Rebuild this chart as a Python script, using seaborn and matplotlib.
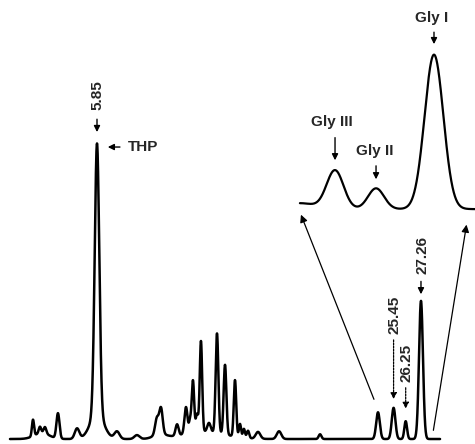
import numpy as np
import pandas as pd
import seaborn as sns
import matplotlib
matplotlib.use("Agg")
from matplotlib import pyplot as plt

# peaks of the main trace: retention time (min), height, width (min)
peak_time = [1.62, 2.08, 2.41, 3.27, 4.53, 5.85, 5.85, 7.17, 8.49, 9.81,
             10.08, 11.14, 11.73, 12.00, 12.19, 12.46, 12.72, 13.25, 13.78, 14.31,
             14.97, 15.30, 15.56, 15.83, 16.49, 17.88, 20.59, 24.42, 25.45, 26.25,
             27.26, 2.20, 12.90, 10.0]
peak_height = [5.5, 2.2, 2.2, 8.5, 3.5, 91.0, 8.5, 2.5, 1.3, 5.5,
               8.5, 3.8, 9.0, 4.0, 17.5, 6.0, 30.5, 3.0, 33.5, 23.5,
               19.0, 4.5, 3.0, 2.5, 2.3, 2.6, 1.6, 9.0, 10.5, 6.0,
               46.5, 2.0, 2.5, 1.5]
peak_width = [0.07, 0.08, 0.09, 0.10, 0.15, 0.15, 0.45, 0.17, 0.17, 0.12,
              0.11, 0.10, 0.10, 0.07, 0.08, 0.08, 0.08, 0.11, 0.09, 0.09,
              0.08, 0.07, 0.07, 0.08, 0.15, 0.15, 0.09, 0.12, 0.12, 0.09,
              0.13, 0.5, 1.4, 0.4]

# expanded glycoside region (inset)
gly_time = [19.26, 21.58, 24.29, 28.12]
gly_height = [2.0, 13.0, 7.0, 52.0]
gly_width = [1.0, 0.56, 0.53, 0.62]
gly_base = 77.4

labels_rt = ["5.85", "25.45", "26.25", "27.26"]


def trace(t, times, heights, widths):
    y = np.zeros_like(t)
    for c, h, w in zip(times, heights, widths):
        y += h * np.exp(-0.5 * ((t - c) / w) ** 2)
    return y


t_main = np.linspace(0.1, 28.52, 4000)
main = pd.DataFrame({"t": t_main, "signal": trace(t_main, peak_time, peak_height, peak_width)})
t_ins = np.linspace(19.26, 30.83, 1500)
ins = pd.DataFrame({"t": t_ins, "signal": gly_base + trace(t_ins, gly_time, gly_height, gly_width)})

sns.set_style("white")
plt.rcParams["font.family"] = ["Liberation Sans", "DejaVu Sans"]

fig = plt.figure(figsize=(4.75, 4.44), dpi=100)
ax = fig.add_axes([0, 0, 1, 1])
sns.lineplot(data=main, x="t", y="signal", ax=ax, color="black", lw=1.8,
             estimator=None, sort=False)
sns.lineplot(data=ins, x="t", y="signal", ax=ax, color="black", lw=1.6,
             estimator=None, sort=False)
ax.set_xlim(-0.56, 30.83)
ax.set_ylim(-1.68, 147.8)
ax.axis("off")

fs = 11
txt = dict(fontsize=fs, fontweight="bold", ha="center", va="center")
head = dict(arrowstyle="-|>", color="black", lw=1.0, mutation_scale=9)
dot = dict(arrowstyle="-|>", color="black", lw=0.9, mutation_scale=9,
           linestyle=(0, (1.5, 1)))

# retention time labels
ax.text(5.85, 115.8, labels_rt[0], rotation=90, **txt)
ax.annotate("", xy=(5.85, 102.4), xytext=(5.85, 108.6), arrowprops=head)
ax.text(27.37, 61.8, labels_rt[3], rotation=90, **txt)
ax.annotate("", xy=(27.26, 47.8), xytext=(27.26, 54), arrowprops=head)
ax.text(25.50, 41.8, labels_rt[1], rotation=90, **txt)
ax.annotate("", xy=(25.45, 12.5), xytext=(25.45, 34.3), arrowprops=dot)
ax.text(26.33, 25.6, labels_rt[2], rotation=90, **txt)
ax.annotate("", xy=(26.25, 9.3), xytext=(26.25, 18.2), arrowprops=dot)

# THP
ax.annotate("", xy=(6.38, 98.3), xytext=(7.55, 98.3), arrowprops=head)
ax.text(7.9, 98.3, "THP", fontsize=fs, fontweight="bold", ha="left", va="center")

# glycoside labels on the inset
ax.text(27.99, 141.7, "Gly I", **txt)
ax.annotate("", xy=(28.12, 132.0), xytext=(28.12, 137.9), arrowprops=head)
ax.text(21.38, 106.7, "Gly III", **txt)
ax.annotate("", xy=(21.58, 92.9), xytext=(21.58, 102.4), arrowprops=head)
ax.text(24.22, 97.0, "Gly II", **txt)
ax.annotate("", xy=(24.29, 86.5), xytext=(24.29, 92.9), arrowprops=head)

# arrows from the main trace to the expanded region
big = dict(arrowstyle="-|>", color="black", lw=0.9, mutation_scale=11)
ax.annotate("", xy=(19.26, 76.4), xytext=(24.22, 12.5), arrowprops=big)
ax.annotate("", xy=(30.30, 73.1), xytext=(28.05, 2.0), arrowprops=big)

fig.savefig("out.png", dpi=100)
